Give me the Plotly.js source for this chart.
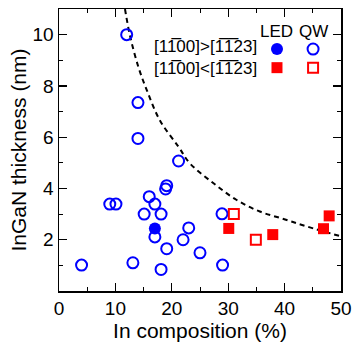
<!DOCTYPE html>
<html><head><meta charset="utf-8">
<script src="https://cdn.plot.ly/plotly-3.0.1.min.js"></script>
<style>html,body{margin:0;padding:0;background:#fff}</style>
</head><body>
<div id="chart" style="width:353px;height:343px"></div>
<script>
// QW, [1-100] > [-1-123]  (blue open circles)
const qwBlueX = [12.0, 14.0, 14.0, 21.2, 19.1, 18.9, 16.0, 17.0, 9.0, 10.1, 15.1, 18.1, 17.0, 19.1, 22.0, 23.0, 25.0, 4.0, 13.1, 18.1, 29.0, 28.9];
const qwBlueY = [10.0, 7.35, 5.95, 5.07, 4.11, 3.98, 3.68, 3.39, 3.39, 3.39, 3.0, 3.0, 2.11, 1.65, 2.0, 2.46, 1.49, 1.01, 1.1, 0.84, 1.01, 3.01];
// LED, [1-100] > [-1-123]  (blue filled circle)
const ledBlueX = [17.0];
const ledBlueY = [2.44];
// LED, [1-100] < [-1-123]  (red filled squares)
const ledRedX = [30.1, 37.9, 46.9, 47.9];
const ledRedY = [2.44, 2.2, 2.43, 2.93];
// QW, [1-100] < [-1-123]  (red open squares)
const qwRedX = [31.0, 34.9];
const qwRedY = [3.0, 2.0];
// dashed boundary curve
const curveX = [11.7, 12.6, 14.1, 15.6, 17.9, 21.2, 23.2, 27.4, 31.5, 35.6, 39.8, 43.9, 50];
const curveY = [11.0, 9.95, 8.72, 7.82, 6.65, 5.62, 4.98, 4.2, 3.55, 3.1, 2.81, 2.52, 2.13];
// tick labels
const xTickVals = [0, 10, 20, 30, 40, 50];
const yTickVals = [2, 4, 6, 8, 10];
// legend labels
const rowLabels = ['[11\u030500]>[1\u03051\u030523]', '[11\u030500]<[1\u03051\u030523]'];
const colLabels = ['LED', 'QW'];

const FONT = "'Liberation Sans', Arial, Helvetica, sans-serif";
const BLUE = '#0000ff', RED = '#ff0000';

const traces = [
  {x: curveX, y: curveY, mode: 'lines', line: {color: '#000', width: 2, dash: '5px,4px', shape: 'spline'}, hoverinfo: 'skip'},
  {x: qwBlueX, y: qwBlueY, mode: 'markers', marker: {symbol: 'circle-open', size: 11, color: BLUE, line: {width: 2, color: BLUE}}},
  {x: ledBlueX, y: ledBlueY, mode: 'markers', marker: {symbol: 'circle', size: 12, color: BLUE}},
  {x: qwRedX, y: qwRedY, mode: 'markers', marker: {symbol: 'square-open', size: 10, color: RED, line: {width: 2, color: RED}}},
  {x: ledRedX, y: ledRedY, mode: 'markers', marker: {symbol: 'square', size: 11, color: RED}}
];

const axisCommon = {
  showgrid: false, zeroline: false, showline: true, linecolor: '#000', linewidth: 1.5,
  mirror: 'ticks', ticks: 'inside', ticklen: 8, tickwidth: 1.2, tickcolor: '#000',
  tickfont: {family: FONT, size: 19, color: '#000'}
};

const colLED = 0.773, colQW = 0.901, row1 = 0.858, row2 = 0.792;
const shapes = [
  {type: 'circle', xref: 'paper', yref: 'paper', xsizemode: 'pixel', ysizemode: 'pixel', xanchor: colLED, yanchor: row1, x0: -6, x1: 6, y0: -6, y1: 6, fillcolor: BLUE, line: {width: 0}},
  {type: 'circle', xref: 'paper', yref: 'paper', xsizemode: 'pixel', ysizemode: 'pixel', xanchor: colQW, yanchor: row1, x0: -5.5, x1: 5.5, y0: -5.5, y1: 5.5, fillcolor: 'rgba(0,0,0,0)', line: {width: 2, color: BLUE}},
  {type: 'rect', xref: 'paper', yref: 'paper', xsizemode: 'pixel', ysizemode: 'pixel', xanchor: colLED, yanchor: row2, x0: -5.5, x1: 5.5, y0: -5.5, y1: 5.5, fillcolor: RED, line: {width: 0}},
  {type: 'rect', xref: 'paper', yref: 'paper', xsizemode: 'pixel', ysizemode: 'pixel', xanchor: colQW, yanchor: row2, x0: -5, x1: 5, y0: -5, y1: 5, fillcolor: 'rgba(0,0,0,0)', line: {width: 2, color: RED}}
];

const annFont = {family: FONT, size: 17, color: '#000'};
const annotations = [
  {xref: 'paper', yref: 'paper', x: colLED, y: 0.92, text: colLabels[0], showarrow: false, font: annFont, xanchor: 'center', yanchor: 'middle'},
  {xref: 'paper', yref: 'paper', x: colQW, y: 0.92, text: colLabels[1], showarrow: false, font: annFont, xanchor: 'center', yanchor: 'middle'},
  {xref: 'paper', yref: 'paper', x: 0.71, y: (row1 + row2) / 2 + 0.004, text: rowLabels.join('<br>'), showarrow: false, font: annFont, xanchor: 'right', yanchor: 'middle', align: 'right'}
];

const layout = {
  width: 353, height: 343,
  margin: {l: 59, r: 12, t: 9, b: 52},
  paper_bgcolor: '#fff', plot_bgcolor: '#fff',
  showlegend: false,
  font: {family: FONT, color: '#000'},
  xaxis: Object.assign({}, axisCommon, {
    range: [0, 50], tickvals: xTickVals, ticktext: xTickVals.map(String),
    minor: {dtick: 5, tick0: 0, ticks: 'inside', ticklen: 4, tickcolor: '#000', tickwidth: 1},
    title: {text: 'In composition (%)', font: {family: FONT, size: 21, color: '#000'}, standoff: 4}
  }),
  yaxis: Object.assign({}, axisCommon, {
    range: [0, 11], tickvals: yTickVals, ticktext: yTickVals.map(String),
    minor: {dtick: 1, tick0: 0, ticks: 'inside', ticklen: 4, tickcolor: '#000', tickwidth: 1},
    title: {text: 'InGaN thickness (nm)', font: {family: FONT, size: 21, color: '#000'}, standoff: 0}
  }),
  shapes: shapes,
  annotations: annotations
};

Plotly.newPlot('chart', traces, layout, {displayModeBar: false, staticPlot: true});
</script>
</body></html>
